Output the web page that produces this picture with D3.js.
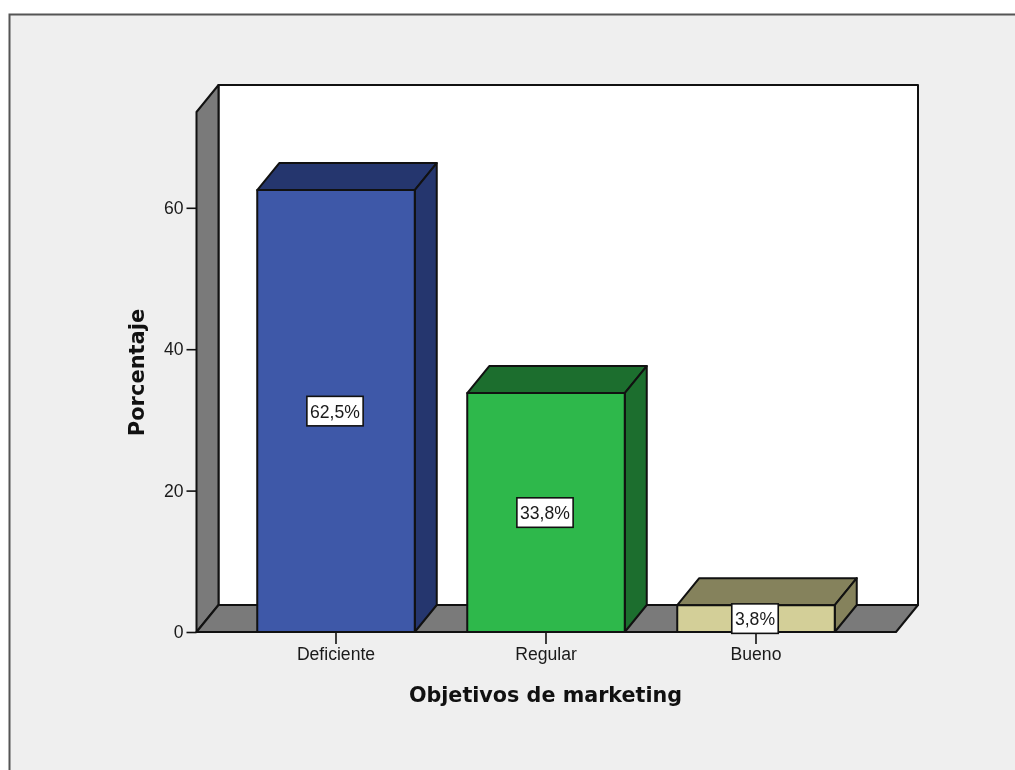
<!DOCTYPE html>
<html><head><meta charset="utf-8">
<script src="https://cdn.jsdelivr.net/npm/d3@7"></script>
<style>html,body{margin:0;padding:0;background:#fff;overflow:hidden}svg{display:block;filter:blur(.5px)}</style>
</head><body><div id="chart"></div>
<script>
const categories = ["Deficiente","Regular","Bueno"];
const values = [62.5,33.8,3.8];
const valueLabels = ["62,5%","33,8%","3,8%"];
const frontColors = ["#3e58a8","#2eb84b","#d3cf98"];
const sideColors = ["#25366e","#1c6e2e","#85825c"];
const yTicks = [0,20,40,60];
const xTitle = "Objetivos de marketing";
const yTitle = "Porcentaje";

const W=1015,H=770, dx=22, dy=-27;
const svg=d3.select("#chart").append("svg").attr("width",W).attr("height",H);
const y=d3.scaleLinear().domain([0,73.55]).range([632,112]);
const x=d3.scaleBand().domain(categories).range([231,861]).paddingInner(.25).paddingOuter(.125);
const L=196.5,R=896,B=y(0),T=y.range()[1];
const stroke="#111";
const poly=(pts,fill)=>svg.append("polygon").attr("points",pts.map(p=>p.join(",")).join(" ")).attr("fill",fill).attr("stroke",stroke).attr("stroke-width",2).attr("stroke-linejoin","round");

// frame
svg.append("rect").attr("x",9.5).attr("y",14.5).attr("width",W+20).attr("height",H+20).attr("fill","#efefef").attr("stroke","#555").attr("stroke-width",2);

// walls
poly([[L+dx,T+dy],[R+dx,T+dy],[R+dx,B+dy],[L+dx,B+dy]],"#fff");
poly([[L,T],[L+dx,T+dy],[L+dx,B+dy],[L,B]],"#7a7a7a");
poly([[L,B],[L+dx,B+dy],[R+dx,B+dy],[R,B]],"#7a7a7a");

// bars
categories.forEach((c,i)=>{
  const x0=x(c),x1=x0+x.bandwidth(),yt=y(values[i]);
  poly([[x0,yt],[x0+dx,yt+dy],[x1+dx,yt+dy],[x1,yt]],sideColors[i]);
  poly([[x1,yt],[x1+dx,yt+dy],[x1+dx,B+dy],[x1,B]],sideColors[i]);
  poly([[x0,yt],[x1,yt],[x1,B],[x0,B]],frontColors[i]);
});

// axes
const font='"Liberation Sans",Arial,sans-serif';
const yAxis=svg.append("g").attr("transform",`translate(${L},0)`).call(d3.axisLeft(y).tickValues(yTicks).tickSize(10).tickSizeOuter(0).tickPadding(3));
const xAxis=svg.append("g").attr("transform",`translate(0,${B})`).call(d3.axisBottom(x).tickSize(12).tickSizeOuter(0).tickPadding(4));
[yAxis,xAxis].forEach(a=>{a.select(".domain").remove();a.selectAll("line").attr("stroke",stroke).attr("stroke-width",1.6);a.selectAll("text").attr("font-family",font).attr("font-size",17.6).attr("fill","#1a1a1a").attr("textLength",null);});

// value labels
categories.forEach((c,i)=>{
  const cx=x(c)+x.bandwidth()/2, cy=y(values[i]/2)+.3;
  const g=svg.append("g");
  const r=g.append("rect").attr("fill","#fff").attr("stroke",stroke).attr("stroke-width",1.6);
  const t=g.append("text").attr("x",cx-1).attr("y",cy).attr("dy","0.36em").attr("text-anchor","middle").attr("font-family",font).attr("font-size",17.6).attr("fill","#1a1a1a").text(valueLabels[i]);
  const w=t.node().getBBox().width+6;
  r.attr("x",cx-1-w/2).attr("y",cy-15).attr("width",w).attr("height",29.5);
});

// titles
const tf='"DejaVu Sans",sans-serif';
svg.append("text").attr("x",545.5).attr("y",701.5).attr("text-anchor","middle").attr("font-family",tf).attr("font-weight","bold").attr("font-size",20.7).attr("fill","#111").text(xTitle);
svg.append("text").attr("transform","translate(144,372.5) rotate(-90)").attr("text-anchor","middle").attr("font-family",tf).attr("font-weight","bold").attr("font-size",21).attr("fill","#111").text(yTitle);
</script></body></html>
